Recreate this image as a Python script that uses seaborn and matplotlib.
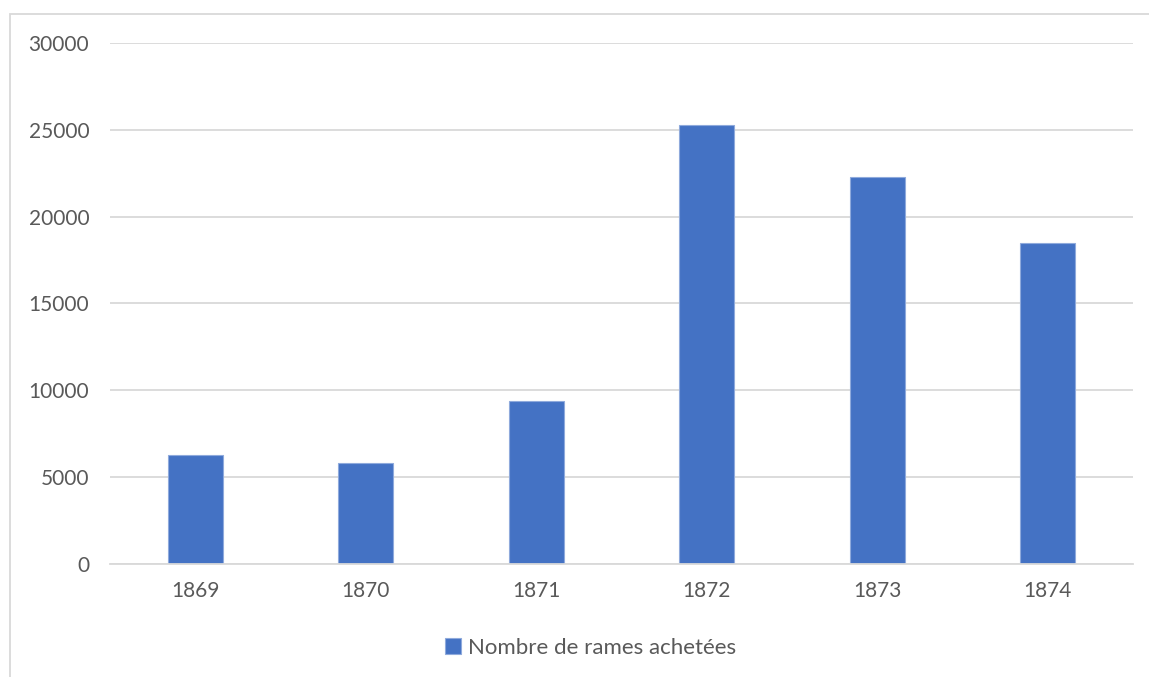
import matplotlib.pyplot as plt
import pandas as pd
import seaborn as sns
from matplotlib.patches import Rectangle

years = ["1869", "1870", "1871", "1872", "1873", "1874"]
rames = [6300, 5800, 9400, 25300, 22300, 18500]
series_name = "Nombre de rames achetées"

sns.set_theme(style="white")
plt.rcParams["font.family"] = ["Lato", "DejaVu Sans"]

df = pd.DataFrame({"annee": years, "rames": rames, "serie": series_name})

fig = plt.figure(figsize=(11.49, 6.77), dpi=100)
ax = fig.add_axes([110 / 1149, 1 - 564 / 677, 1023 / 1149, 521 / 677])

sns.barplot(data=df, x="annee", y="rames", hue="serie", palette=["#4472c4"],
            saturation=1, width=0.32, edgecolor="#8faadc", linewidth=0.8,
            ax=ax, legend=True)

ax.set_ylim(0, 30000)
ax.set_yticks(range(0, 30001, 5000))
ax.yaxis.grid(True, color="#d9d9d9", linewidth=1.3)
ax.set_axisbelow(True)
for s in ["top", "right", "left"]:
    ax.spines[s].set_visible(False)
ax.spines["bottom"].set_color("#d9d9d9")
ax.spines["bottom"].set_linewidth(1.3)
ax.tick_params(axis="both", length=0, labelsize=15, labelcolor="#595959")
ax.tick_params(axis="y", pad=15)
ax.tick_params(axis="x", pad=12)
ax.set_xlabel("")
ax.set_ylabel("")

ax.get_legend().remove()
handles, labels = ax.get_legend_handles_labels()
fig.legend(handles, labels, loc="center", bbox_to_anchor=(0.514, 0.043),
           frameon=False, fontsize=16, labelcolor="#595959",
           handlelength=0.7, handleheight=0.7, handletextpad=0.3)

# chart area border (cut off at right and bottom in the original)
fig.patches.append(Rectangle((10 / 1149, -0.2), 2, 1.2 - 14 / 677, transform=fig.transFigure,
                             fill=False, edgecolor="#d9d9d9", linewidth=1.3))

fig.savefig("out.png", dpi=100)
